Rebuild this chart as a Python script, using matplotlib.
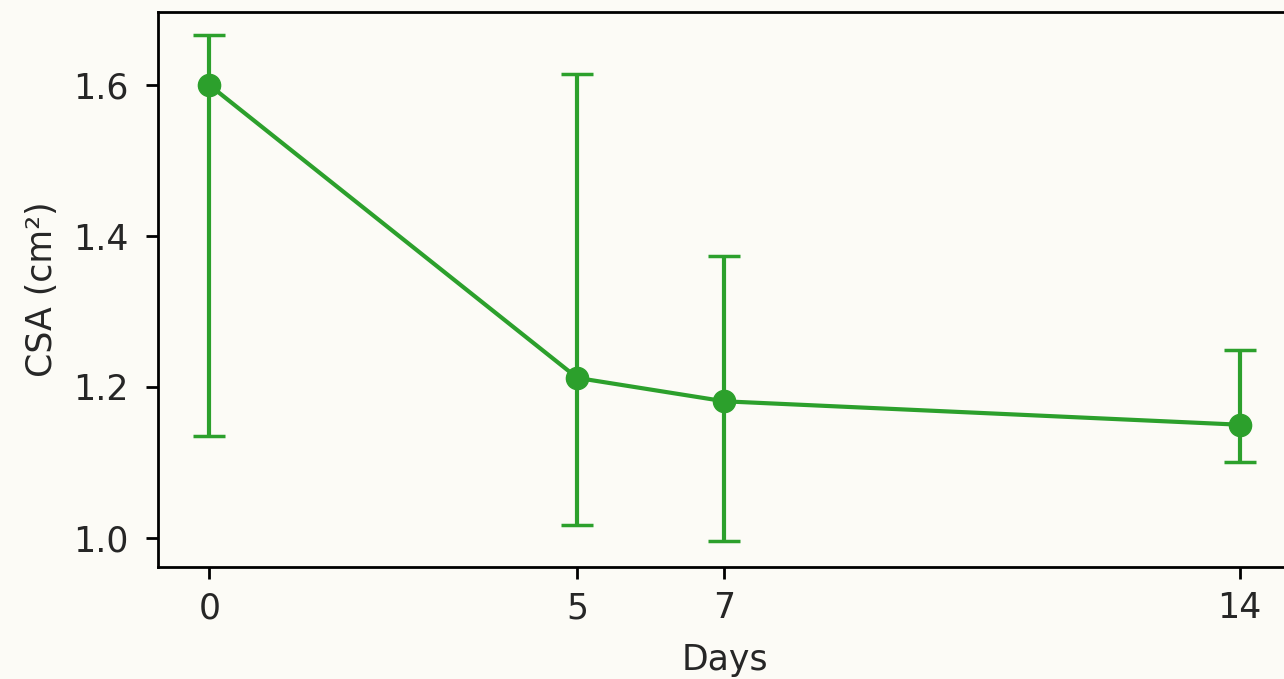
import matplotlib
matplotlib.use("Agg")
import matplotlib.pyplot as plt

# values (asymmetric spread around the centre value)
days = [0, 5, 7, 14]
csa = [1.60, 1.212, 1.181, 1.150]
csa_low = [1.135, 1.017, 0.996, 1.100]
csa_high = [1.666, 1.615, 1.374, 1.249]

err_lo = [c - lo for c, lo in zip(csa, csa_low)]
err_hi = [hi - c for c, hi in zip(csa, csa_high)]

S = 2.5  # everything is drawn 2.5x the default size
bg = "#fcfbf6"
green = "#2ca02c"

plt.rcParams.update({
    "font.family": "DejaVu Sans",
    "font.size": 10 * S,
    "axes.linewidth": 0.8 * S,
    "xtick.major.size": 3.5 * S,
    "ytick.major.size": 3.5 * S,
    "xtick.major.width": 0.8 * S,
    "ytick.major.width": 0.8 * S,
    "xtick.major.pad": 3.5 * S,
    "ytick.major.pad": 5.0 * S,
    "text.color": "#262626",
    "xtick.labelcolor": "#262626",
    "ytick.labelcolor": "#262626",
    "axes.labelcolor": "#262626",
})

fig = plt.figure(figsize=(12.84, 6.79), dpi=100, facecolor=bg)
ax = fig.add_axes([0.123, 0.165, 0.8825, 0.8175], facecolor=bg)

ax.errorbar(days, csa, yerr=[err_lo, err_hi], color=green, marker="o",
            markersize=6.4 * S, linewidth=1.2 * S, elinewidth=1.2 * S,
            capsize=4.6 * S, capthick=1.0 * S)

ax.set_xticks(days)
ax.set_yticks([1.0, 1.2, 1.4, 1.6])
ax.set_xlim(-0.7, 14.7)
ax.set_ylim(0.9615, 1.697)
ax.set_xlabel("Days", labelpad=5 * S)
ax.set_ylabel("CSA (cm²)", labelpad=4 * S)

fig.savefig("out.png", dpi=100, facecolor=bg)
